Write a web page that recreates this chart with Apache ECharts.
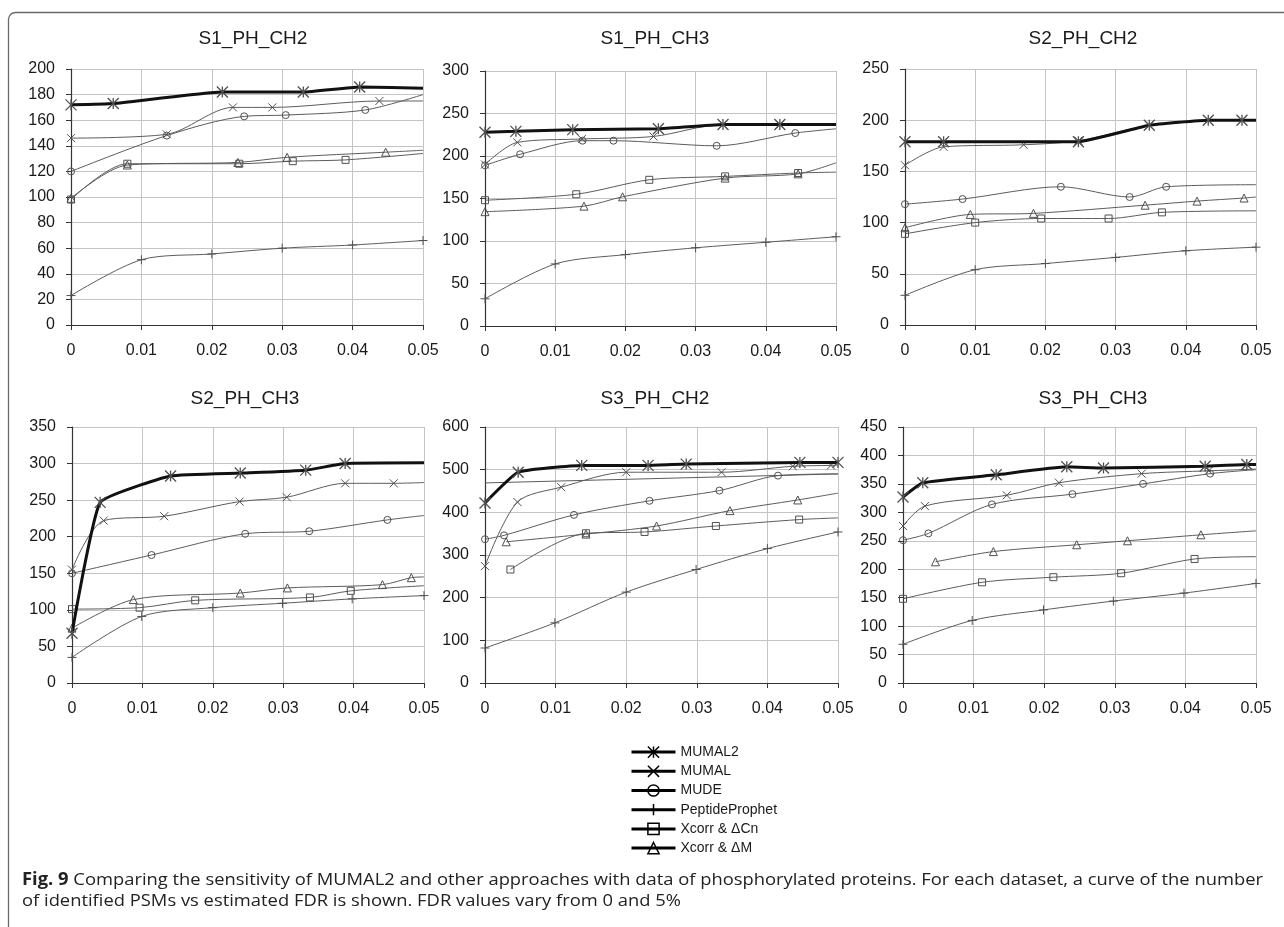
<!DOCTYPE html>
<html>
<head>
<meta charset="utf-8">
<script src="https://cdn.jsdelivr.net/npm/echarts@6/dist/echarts.min.js"></script>
<style>
  html, body { margin: 0; padding: 0; background: #fff; }
  #chart { width: 1284px; height: 927px; }
</style>
</head>
<body>
<div id="chart"></div>
<script>
// ---- data: number of identified PSMs against estimated FDR ----
const fdrTicks = [0, 0.01, 0.02, 0.03, 0.04, 0.05];
const methods = ['MUMAL2', 'MUMAL', 'MUDE', 'PeptideProphet', 'Xcorr & ΔCn', 'Xcorr & ΔM'];
const datasets = ['S1_PH_CH2', 'S1_PH_CH3', 'S2_PH_CH2', 'S2_PH_CH3', 'S3_PH_CH2', 'S3_PH_CH3'];
const yMax = [200, 300, 250, 350, 600, 450];
const yStep = [20, 50, 50, 50, 100, 50];

// S1_PH_CH2
const s1ch2_mumal2 = [[0, 172], [0.006, 173], [0.0215, 182], [0.033, 182], [0.041, 186], [0.05, 185]];
const s1ch2_mumal  = [[0, 146], [0.0136, 149], [0.023, 170], [0.0286, 170], [0.0438, 175], [0.05, 175]];
const s1ch2_mude   = [[0, 120], [0.0136, 148], [0.0246, 163], [0.0305, 164], [0.0418, 168], [0.05, 180]];
const s1ch2_pp     = [[0, 23], [0.01, 51], [0.02, 55.5], [0.03, 60], [0.04, 62.5], [0.05, 66]];
const s1ch2_cn     = [[0, 98], [0.008, 126], [0.0239, 126], [0.0315, 128], [0.039, 129], [0.05, 134]];
const s1ch2_dm     = [[0, 99], [0.008, 125], [0.0237, 127], [0.0307, 131], [0.0447, 135], [0.05, 136.5]];

// S1_PH_CH3
const s1ch3_mumal2 = [[0, 228], [0.0044, 229], [0.0125, 231], [0.0247, 232], [0.0339, 237], [0.042, 237], [0.05, 237]];
const s1ch3_mumal  = [[0, 190], [0.0046, 216], [0.0138, 220], [0.024, 223], [0.0339, 237], [0.042, 237], [0.05, 237]];
const s1ch3_mude   = [[0, 189], [0.005, 202], [0.0139, 218], [0.0183, 218], [0.033, 212], [0.0442, 227], [0.05, 232]];
const s1ch3_pp     = [[0, 32], [0.01, 73], [0.02, 84], [0.03, 92], [0.04, 98.5], [0.05, 105]];
const s1ch3_cn     = [[0, 148], [0.013, 155], [0.0234, 172], [0.0342, 176], [0.0446, 180], [0.05, 181]];
const s1ch3_dm     = [[0, 134.5], [0.0141, 141], [0.0196, 152], [0.0342, 174], [0.0446, 179], [0.05, 192]];

// S2_PH_CH2
const s2ch2_mumal2 = [[0, 179], [0.0055, 179], [0.0247, 179], [0.0348, 195], [0.0432, 200], [0.048, 200], [0.05, 200]];
const s2ch2_mumal  = [[0, 156], [0.0055, 174], [0.0169, 176], [0.0247, 180], [0.0348, 195], [0.0432, 200], [0.048, 200], [0.05, 200]];
const s2ch2_mude   = [[0, 118], [0.0082, 123], [0.0222, 135], [0.032, 125], [0.0372, 135], [0.05, 137]];
const s2ch2_pp     = [[0, 29], [0.01, 54], [0.02, 60], [0.03, 66], [0.04, 72.5], [0.05, 76]];
const s2ch2_cn     = [[0, 89], [0.01, 100], [0.0194, 104], [0.029, 104], [0.0366, 110], [0.05, 111.5]];
const s2ch2_dm     = [[0, 95], [0.0093, 108], [0.0183, 109], [0.0342, 117], [0.0416, 121], [0.0483, 124], [0.05, 125]];

// S2_PH_CH3
const s2ch3_mumal2 = [[0, 68], [0.004, 247], [0.014, 283], [0.0239, 287], [0.0332, 291], [0.0388, 300], [0.05, 301]];
const s2ch3_mumal  = [[0, 155], [0.0045, 222], [0.0131, 228], [0.0238, 248], [0.0305, 254], [0.0388, 273], [0.0457, 273], [0.05, 274]];
const s2ch3_mude   = [[0, 150], [0.0113, 175], [0.0246, 204], [0.0337, 207.5], [0.0448, 223], [0.05, 229]];
const s2ch3_pp     = [[0, 35], [0.0099, 91], [0.02, 103], [0.0299, 109], [0.0398, 115], [0.05, 119.5]];
const s2ch3_cn     = [[0, 101], [0.0096, 103], [0.0175, 113], [0.0338, 117], [0.0396, 126], [0.05, 133]];
const s2ch3_dm     = [[0, 75], [0.0087, 114], [0.0239, 123], [0.0306, 130], [0.0441, 134.5], [0.0482, 144], [0.05, 145]];

// S3_PH_CH2
const s3ch2_mumal2 = [[0, 422], [0.0047, 494], [0.0137, 510], [0.0231, 510], [0.0285, 513], [0.0446, 517], [0.05, 517]];
const s3ch2_mumal  = [[0, 274], [0.0046, 424], [0.0108, 459], [0.02, 494], [0.0335, 494], [0.0436, 508], [0.049, 510], [0.05, 511]];
const s3ch2_mude   = [[0, 337], [0.0027, 346], [0.0126, 394], [0.0233, 427], [0.0332, 451], [0.0415, 486], [0.05, 490]];
const s3ch2_mude_back = [[0.05, 490], [0, 469]];
const s3ch2_pp     = [[0, 82], [0.0099, 141], [0.02, 213], [0.0299, 266], [0.04, 315], [0.05, 354]];
const s3ch2_cn     = [[0.0036, 266], [0.0143, 351], [0.0226, 354], [0.0327, 368], [0.0445, 383], [0.05, 387]];
const s3ch2_dm     = [[0.003, 331], [0.0143, 349], [0.0243, 368], [0.0347, 404], [0.0443, 429], [0.05, 445]];

// S3_PH_CH3
const s3ch3_mumal2 = [[0, 327], [0.0028, 352], [0.0132, 366], [0.0232, 380], [0.0284, 378], [0.0428, 381], [0.0487, 384], [0.05, 384]];
const s3ch3_mumal  = [[0, 276], [0.0031, 311], [0.0147, 330], [0.0221, 352], [0.0338, 368], [0.0433, 373], [0.05, 376]];
const s3ch3_mude   = [[0, 251], [0.0036, 263], [0.0126, 314], [0.024, 332], [0.034, 350], [0.0435, 368], [0.05, 375]];
const s3ch3_pp     = [[0, 68], [0.0098, 110], [0.0199, 128.5], [0.0298, 144], [0.0398, 158], [0.05, 175]];
const s3ch3_cn     = [[0, 148], [0.0112, 177], [0.0213, 186], [0.0309, 193], [0.0413, 218], [0.05, 222]];
const s3ch3_dm     = [[0.0046, 213], [0.0128, 231], [0.0246, 243], [0.0318, 250], [0.0422, 260.5], [0.05, 267.5]];

// 1 = the last point is where the curve leaves the plot at FDR 0.05 (no marker there)
const s1ch2_edge = [1, 1, 1, 0, 1, 1];
const s1ch3_edge = [1, 1, 1, 0, 1, 1];
const s2ch2_edge = [1, 1, 1, 0, 1, 1];
const s2ch3_edge = [1, 1, 1, 0, 1, 1];
const s3ch2_edge = [0, 1, 1, 0, 1, 1];
const s3ch3_edge = [1, 1, 1, 0, 1, 1];

const panelSeries = [
  [s1ch2_mumal2, s1ch2_mumal, s1ch2_mude, s1ch2_pp, s1ch2_cn, s1ch2_dm],
  [s1ch3_mumal2, s1ch3_mumal, s1ch3_mude, s1ch3_pp, s1ch3_cn, s1ch3_dm],
  [s2ch2_mumal2, s2ch2_mumal, s2ch2_mude, s2ch2_pp, s2ch2_cn, s2ch2_dm],
  [s2ch3_mumal2, s2ch3_mumal, s2ch3_mude, s2ch3_pp, s2ch3_cn, s2ch3_dm],
  [s3ch2_mumal2, s3ch2_mumal, s3ch2_mude, s3ch2_pp, s3ch2_cn, s3ch2_dm],
  [s3ch3_mumal2, s3ch3_mumal, s3ch3_mude, s3ch3_pp, s3ch3_cn, s3ch3_dm]
];
const panelEdge = [s1ch2_edge, s1ch3_edge, s2ch2_edge, s2ch3_edge, s3ch2_edge, s3ch3_edge];

const captionBold = 'Fig. 9';
const captionLine1 = ' Comparing the sensitivity of MUMAL2 and other approaches with data of phosphorylated proteins. For each dataset, a curve of the number';
const captionLine2 = 'of identified PSMs vs estimated FDR is shown. FDR values vary from 0 and 5%';

// ---- layout and styling ----
const FONT = '"Liberation Sans", Arial, sans-serif';
const gridBoxes = [
  { left: 71,  top: 69,  width: 352, height: 256 },
  { left: 485, top: 71,  width: 351, height: 255 },
  { left: 905, top: 69,  width: 351, height: 256 },
  { left: 72,  top: 427, width: 352, height: 256 },
  { left: 485, top: 427, width: 353, height: 256 },
  { left: 903, top: 427, width: 353, height: 256 }
];
const titlePos = [[253, 29], [655, 29], [1083, 29], [245, 389], [655, 389], [1093, 389]];

const SYM = {
  star:  'path://M5,0L5,10M0,0L10,10M0,10L10,0',
  cross: 'path://M0,0L10,10M0,10L10,0',
  plus:  'path://M5,0L5,10M0,5L10,5'
};
const LINE_GREY = '#5c5c5c';
const MARK_GREY = '#505050';
const methodStyle = [
  { symbol: SYM.star,  size: 11, lineColor: '#111', lineWidth: 3,   markW: 1.3, z: 6, smooth: 0.12 },
  { symbol: SYM.cross, size: 8,  lineColor: LINE_GREY, lineWidth: 1, markW: 1,  z: 4, smooth: 0.3 },
  { symbol: 'circle',  size: 7,  lineColor: LINE_GREY, lineWidth: 1, markW: 1,  z: 4, smooth: 0.3 },
  { symbol: SYM.plus,  size: 9,  lineColor: LINE_GREY, lineWidth: 1, markW: 1,  z: 4, smooth: 0.3 },
  { symbol: 'rect',    size: 7,  lineColor: LINE_GREY, lineWidth: 1, markW: 1,  z: 4, smooth: 0.3 },
  { symbol: 'triangle',size: 8,  lineColor: LINE_GREY, lineWidth: 1, markW: 1,  z: 4, smooth: 0.3 }
];

const grid = [], xAxis = [], yAxis = [], title = [], series = [];

datasets.forEach((name, p) => {
  grid.push(Object.assign({ containLabel: false }, gridBoxes[p]));
  title.push({
    text: name, left: titlePos[p][0], top: titlePos[p][1], textAlign: 'center', padding: 0,
    textStyle: { fontFamily: FONT, fontSize: 19, fontWeight: 'normal', color: '#1a1a1a' }
  });
  xAxis.push({
    type: 'value', gridIndex: p, min: fdrTicks[0], max: fdrTicks[fdrTicks.length - 1],
    interval: fdrTicks[1] - fdrTicks[0],
    axisLine: { show: true, onZero: false, lineStyle: { color: '#333', width: 1.2 } },
    axisTick: { show: true, length: 5, lineStyle: { color: '#333' } },
    axisLabel: { fontFamily: FONT, fontSize: 16, color: '#1a1a1a', margin: 18,
      formatter: v => String(+v.toFixed(2)) },
    splitLine: { show: true, lineStyle: { color: '#c4c4c4', width: 1 } }
  });
  yAxis.push({
    type: 'value', gridIndex: p, min: 0, max: yMax[p], interval: yStep[p],
    axisLine: { show: true, lineStyle: { color: '#333', width: 1.2 } },
    axisTick: { show: true, length: 5, lineStyle: { color: '#333' } },
    axisLabel: { fontFamily: FONT, fontSize: 16, color: '#1a1a1a', margin: 16 },
    splitLine: { show: true, lineStyle: { color: '#c4c4c4', width: 1 } }
  });

  panelSeries[p].forEach((pts, m) => {
    const st = methodStyle[m];
    const edge = panelEdge[p][m] === 1;
    series.push({
      name: methods[m], type: 'line', xAxisIndex: p, yAxisIndex: p,
      smooth: st.smooth, z: st.z, silent: true,
      symbol: st.symbol, symbolSize: st.size, symbolKeepAspect: true,
      showAllSymbol: true,
      lineStyle: { color: st.lineColor, width: st.lineWidth },
      itemStyle: { color: 'none', borderColor: MARK_GREY, borderWidth: st.markW },
      emphasis: { disabled: true },
      data: pts.map((d, i) => (edge && i === pts.length - 1)
        ? { value: d, symbol: 'none' }
        : { value: d })
    });
  });
});

// S3_PH_CH2: the MUDE curve runs back to the start of the axis
series.push({
  name: methods[2], type: 'line', xAxisIndex: 4, yAxisIndex: 4, smooth: false, z: 3, silent: true,
  symbol: 'none', lineStyle: { color: LINE_GREY, width: 1 },
  itemStyle: { color: 'none', borderColor: MARK_GREY, borderWidth: 1 },
  emphasis: { disabled: true }, data: s3ch2_mude_back
});

// caption, squeezed horizontally to the width of a condensed face
const CAP_FONT = '"Liberation Sans Narrow", "Open Sans", sans-serif';
const CAP_SIZE = 17;
const ctx = document.createElement('canvas').getContext('2d');
function textWidth(str, weight) {
  ctx.font = weight + ' ' + CAP_SIZE + 'px ' + CAP_FONT;
  return ctx.measureText(str).width;
}
const capScale = 1241 / (textWidth(captionBold, 'bold') + textWidth(captionLine1, 'normal'));

const graphic = [
  { type: 'rect', silent: true, z: 0,
    shape: { x: 8.5, y: 12.5, width: 1400, height: 1100, r: 7 },
    style: { fill: 'none', stroke: '#6a6a6a', lineWidth: 1.3 } },
  { type: 'text', silent: true, x: 22, y: 880, scaleX: capScale,
    style: { text: '{b|' + captionBold + '}' + captionLine1, fill: '#222',
      font: CAP_SIZE + 'px ' + CAP_FONT, verticalAlign: 'middle',
      rich: { b: { fontWeight: 'bold', fontFamily: CAP_FONT, fontSize: CAP_SIZE, fill: '#222' } } } },
  { type: 'text', silent: true, x: 22, y: 901, scaleX: capScale,
    style: { text: captionLine2, fill: '#222', font: CAP_SIZE + 'px ' + CAP_FONT, verticalAlign: 'middle' } }
];

const chart = echarts.init(document.getElementById('chart'), null, { renderer: 'canvas' });
chart.setOption({
  animation: false,
  backgroundColor: '#fff',
  title, grid, xAxis, yAxis, series, graphic,
  legend: {
    data: methods, orient: 'vertical', left: 625, top: 739,
    itemWidth: 44, itemHeight: 14, itemGap: 3, selectedMode: false,
    lineStyle: { color: '#000', width: 3 },
    itemStyle: { color: 'none', borderColor: '#000', borderWidth: 1.5 },
    textStyle: { fontFamily: FONT, fontSize: 14, color: '#1a1a1a' }
  }
});
</script>
</body>
</html>
